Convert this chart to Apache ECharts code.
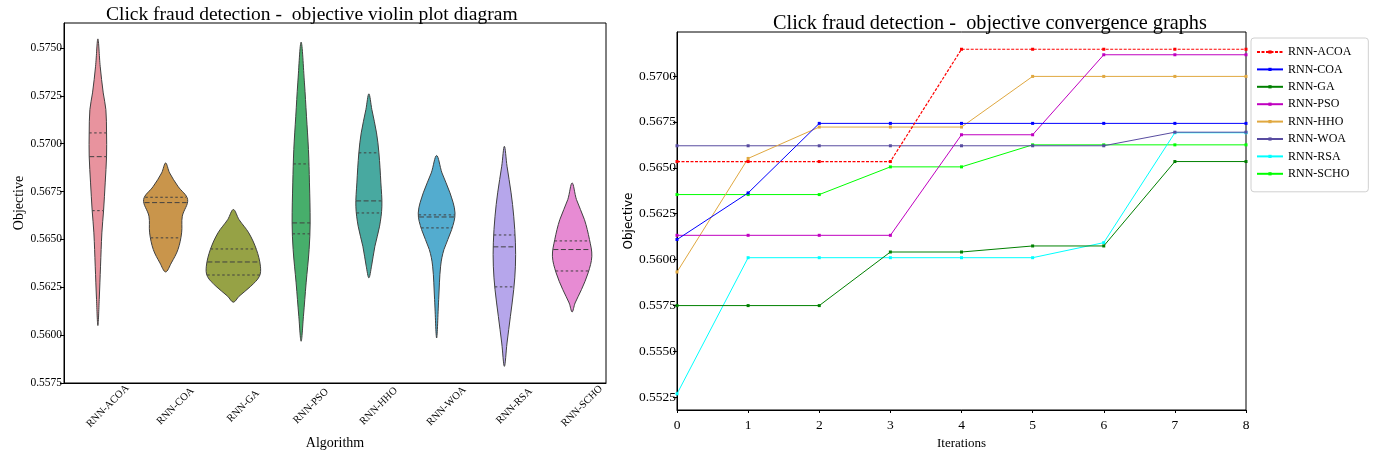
<!DOCTYPE html>
<html>
<head>
<meta charset="utf-8">
<script src="https://cdn.jsdelivr.net/npm/echarts@6/dist/echarts.min.js"></script>
<style>
  html, body { margin: 0; padding: 0; background: #fff; }
  #main { width: 1375px; height: 457px; }
</style>
</head>
<body>
<div id="main"></div>
<script>
// categories of the violin plot
const algorithms = ['RNN-ACOA', 'RNN-COA', 'RNN-GA', 'RNN-PSO', 'RNN-HHO', 'RNN-WOA', 'RNN-RSA', 'RNN-SCHO'];

// violin outlines: [objective value, relative half width]
const acoaViolin = [[0.57547, 0], [0.57404, 0.034], [0.57265, 0.079], [0.57178, 0.118], [0.57056, 0.128], [0.56934, 0.128], [0.56795, 0.108], [0.56650, 0.084], [0.56534, 0.059], [0.56360, 0.039], [0.56186, 0.020], [0.56050, 0]];
const coaViolin = [[0.56899, 0], [0.56847, 0.059], [0.56777, 0.182], [0.56708, 0.325], [0.56621, 0.246], [0.56534, 0.236], [0.56447, 0.182], [0.56377, 0.084], [0.56330, 0]];
const gaViolin = [[0.56656, 0], [0.56603, 0.084], [0.56534, 0.227], [0.56447, 0.340], [0.56360, 0.399], [0.56307, 0.384], [0.56255, 0.256], [0.56203, 0.084], [0.56172, 0]];
const psoViolin = [[0.57530, 0], [0.57317, 0.049], [0.57143, 0.079], [0.56969, 0.108], [0.56795, 0.123], [0.56586, 0.133], [0.56447, 0.118], [0.56273, 0.074], [0.56098, 0.034], [0.55968, 0]];
const hhoViolin = [[0.57260, 0], [0.57178, 0.044], [0.57056, 0.113], [0.56952, 0.148], [0.56795, 0.177], [0.56673, 0.192], [0.56569, 0.158], [0.56464, 0.089], [0.56360, 0.039], [0.56299, 0]];
const woaViolin = [[0.56938, 0], [0.56847, 0.079], [0.56743, 0.197], [0.56638, 0.271], [0.56551, 0.222], [0.56447, 0.108], [0.56360, 0.059], [0.56186, 0.030], [0.55985, 0]];
const rsaViolin = [[0.56986, 0], [0.56882, 0.039], [0.56743, 0.099], [0.56621, 0.138], [0.56482, 0.163], [0.56360, 0.163], [0.56238, 0.138], [0.56098, 0.089], [0.55959, 0.039], [0.55837, 0]];
const schoViolin = [[0.56795, 0], [0.56708, 0.064], [0.56603, 0.182], [0.56499, 0.256], [0.56412, 0.291], [0.56325, 0.236], [0.56238, 0.138], [0.56168, 0.044], [0.56121, 0]];
const violins = [acoaViolin, coaViolin, gaViolin, psoViolin, hhoViolin, woaViolin, rsaViolin, schoViolin];

// [q1, median, q3] per algorithm
const quartiles = [
  [0.56650, 0.56932, 0.57056],
  [0.56508, 0.56692, 0.56720],
  [0.56314, 0.56382, 0.56450],
  [0.56529, 0.56586, 0.56894],
  [0.56638, 0.56701, 0.56952],
  [0.56560, 0.56617, 0.56628],
  [0.56252, 0.56461, 0.56523],
  [0.56335, 0.56447, 0.56492]
];

const violinTicks = [0.5575, 0.5600, 0.5625, 0.5650, 0.5675, 0.5700, 0.5725, 0.5750];

// convergence graphs
const iterations = [0, 1, 2, 3, 4, 5, 6, 7, 8];
const acoaConv = [0.56534, 0.56534, 0.56534, 0.56534, 0.57146, 0.57146, 0.57146, 0.57146, 0.57146];
const coaConv = [0.56109, 0.56363, 0.56742, 0.56742, 0.56742, 0.56742, 0.56742, 0.56742, 0.56742];
const gaConv = [0.55749, 0.55749, 0.55749, 0.56041, 0.56041, 0.56074, 0.56074, 0.56534, 0.56534];
const psoConv = [0.56132, 0.56132, 0.56132, 0.56132, 0.56680, 0.56680, 0.57116, 0.57116, 0.57116];
const hhoConv = [0.55932, 0.56551, 0.56722, 0.56722, 0.56722, 0.56998, 0.56998, 0.56998, 0.56998];
const woaConv = [0.56620, 0.56620, 0.56620, 0.56620, 0.56620, 0.56620, 0.56620, 0.56694, 0.56694];
const rsaConv = [0.55268, 0.56010, 0.56010, 0.56010, 0.56010, 0.56010, 0.56092, 0.56691, 0.56691];
const schoConv = [0.56354, 0.56354, 0.56354, 0.56505, 0.56505, 0.56625, 0.56625, 0.56625, 0.56625];
const convTicks = [0.5525, 0.5550, 0.5575, 0.5600, 0.5625, 0.5650, 0.5675, 0.5700];

const violinColors = ['#E8939E', '#C9954B', '#96A245', '#47AE6B', '#48A9A0', '#53ACCF', '#B6A6EB', '#E78BD3'];
const lineColors = ['#FF0000', '#0000FF', '#008000', '#C000C0', '#E0A840', '#584CA0', '#00FFFF', '#00FF00'];
const convData = [acoaConv, coaConv, gaConv, psoConv, hhoConv, woaConv, rsaConv, schoConv];

const serif = 'Liberation Serif';

function halfWidthAt(prof, v) {
  for (let k = 0; k < prof.length - 1; k++) {
    const a = prof[k], b = prof[k + 1];
    if (v <= a[0] && v >= b[0]) {
      const t = (a[0] - v) / (a[0] - b[0]);
      return a[1] + t * (b[1] - a[1]);
    }
  }
  return 0;
}

function renderViolin(params, api) {
  const i = api.value(0);
  const prof = violins[i];
  const band = api.size([1, 0])[0];
  const cx = api.coord([i, prof[0][0]])[0];
  const pts = [];
  prof.forEach(p => {
    pts.push([cx + p[1] * band, api.coord([i, p[0]])[1]]);
  });
  for (let k = prof.length - 2; k >= 1; k--) {
    pts.push([cx - prof[k][1] * band, api.coord([i, prof[k][0]])[1]]);
  }
  const children = [{
    type: 'polygon',
    shape: { points: pts, smooth: 0.35 },
    style: { fill: violinColors[i], stroke: '#404040', lineWidth: 1 }
  }];
  quartiles[i].forEach((q, k) => {
    const w = halfWidthAt(prof, q) * band;
    const y = api.coord([i, q])[1];
    children.push({
      type: 'line',
      shape: { x1: cx - w, y1: y, x2: cx + w, y2: y },
      style: { stroke: '#404040', lineWidth: 1, lineDash: k === 1 ? [5, 2.5] : [2.5, 2.5] }
    });
  });
  return { type: 'group', children: children };
}

const chart = echarts.init(document.getElementById('main'));

const lineSeries = algorithms.map((name, i) => ({
  name: name,
  type: 'line',
  xAxisIndex: 1,
  yAxisIndex: 1,
  data: iterations.map((it, k) => [it, convData[i][k]]),
  symbol: 'rect',
  symbolSize: 3,
  showSymbol: true,
  animation: false,
  color: lineColors[i],
  lineStyle: { width: i === 0 ? 1.2 : 1, color: lineColors[i], type: i === 0 ? [3, 1.5] : 'solid' },
  itemStyle: { color: lineColors[i] },
  z: 10 - i
}));

const option = {
  backgroundColor: '#ffffff',
  animation: false,
  title: [
    {
      text: 'Click fraud detection -  objective violin plot diagram',
      left: 106, top: 5, padding: 0,
      textStyle: { fontFamily: serif, fontWeight: 'normal', fontSize: 19.5, color: '#000' }
    },
    {
      text: 'Click fraud detection -  objective convergence graphs',
      left: 773, top: 14, padding: 0,
      textStyle: { fontFamily: serif, fontWeight: 'normal', fontSize: 20.3, color: '#000' }
    }
  ],
  legend: {
    data: algorithms,
    orient: 'vertical',
    left: 1251,
    top: 38,
    itemWidth: 26,
    itemHeight: 4,
    itemGap: 5.4,
    padding: [8, 17, 12, 5],
    borderColor: '#d0d0d0',
    borderWidth: 1,
    borderRadius: 3,
    textStyle: { fontFamily: serif, fontSize: 12, color: '#000' }
  },
  grid: [
    { left: 64, top: 23, width: 542, height: 360, show: true, borderColor: '#000', borderWidth: 1 },
    { left: 677, top: 32, width: 569, height: 378, show: true, borderColor: '#000', borderWidth: 1 }
  ],
  xAxis: [
    {
      type: 'category',
      gridIndex: 0,
      data: algorithms,
      boundaryGap: true,
      name: 'Algorithm',
      nameLocation: 'middle',
      nameGap: 43,
      nameTextStyle: { fontFamily: serif, fontSize: 14, color: '#000' },
      axisLine: { lineStyle: { color: '#000' } },
      axisTick: { alignWithLabel: true, length: 4, lineStyle: { color: '#000' } },
      axisLabel: {
        rotate: 45, interval: 0, fontFamily: serif, fontSize: 10.5, color: '#000',
        align: 'center', verticalAlign: 'middle', margin: 33, padding: [0, 0, 0, 28]
      },
      splitLine: { show: false }
    },
    {
      type: 'value',
      gridIndex: 1,
      min: 0, max: 8, interval: 1,
      name: 'Iterations',
      nameLocation: 'middle',
      nameGap: 21,
      nameTextStyle: { fontFamily: serif, fontSize: 13, color: '#000' },
      axisLine: { lineStyle: { color: '#000' } },
      axisTick: { length: 3, lineStyle: { color: '#000' } },
      axisLabel: { fontFamily: serif, fontSize: 13.5, color: '#000', margin: 8 },
      splitLine: { show: false }
    }
  ],
  yAxis: [
    {
      type: 'value',
      gridIndex: 0,
      min: 0.5575, max: 0.5763,
      name: 'Objective',
      nameLocation: 'middle',
      nameGap: 38,
      nameTextStyle: { fontFamily: serif, fontSize: 14, color: '#000' },
      axisLine: { show: true, lineStyle: { color: '#000' } },
      axisTick: { show: true, length: 4, customValues: violinTicks, lineStyle: { color: '#000' } },
      axisLabel: {
        customValues: violinTicks, fontFamily: serif, fontSize: 11.5, color: '#000', margin: 2,
        formatter: v => v.toFixed(4)
      },
      splitLine: { show: false }
    },
    {
      type: 'value',
      gridIndex: 1,
      min: 0.5518, max: 0.5724,
      name: 'Objective',
      nameLocation: 'middle',
      nameGap: 39,
      nameTextStyle: { fontFamily: 'DejaVu Sans', fontSize: 12, color: '#000' },
      axisLine: { show: true, lineStyle: { color: '#000' } },
      axisTick: { show: true, length: 4, customValues: convTicks, lineStyle: { color: '#000' } },
      axisLabel: {
        customValues: convTicks, fontFamily: serif, fontSize: 13.5, color: '#000', margin: 1,
        formatter: v => v.toFixed(4)
      },
      splitLine: { show: false }
    }
  ],
  series: [
    {
      type: 'custom',
      name: 'violins',
      xAxisIndex: 0,
      yAxisIndex: 0,
      renderItem: renderViolin,
      clip: false,
      data: algorithms.map((a, i) => [i, quartiles[i][1]]),
      encode: { x: 0, y: 1 },
      silent: true
    }
  ].concat(lineSeries)
};

chart.setOption(option);
</script>
</body>
</html>
